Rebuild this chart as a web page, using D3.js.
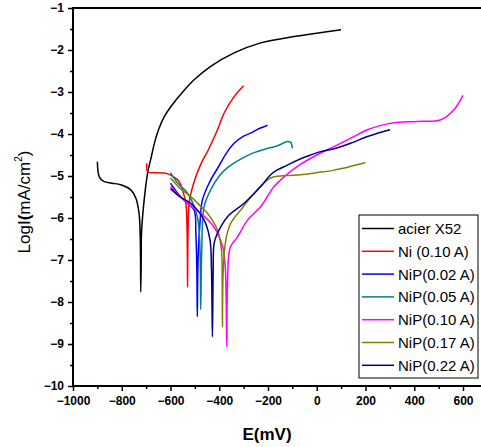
<!DOCTYPE html>
<html><head><meta charset="utf-8">
<script src="https://cdn.jsdelivr.net/npm/d3@7"></script>
<style>body{margin:0;background:#fff}svg{display:block}</style>
</head><body>
<svg id="c" width="481" height="447"></svg>
<script>
const seriesNames = ["acier X52","Ni (0.10 A)","NiP(0.02 A)","NiP(0.05 A)","NiP(0.10 A)","NiP(0.17 A)","NiP(0.22 A)"];
const seriesColors = ["#000000","#ff0000","#0000ff","#008080","#ff00ff","#808000","#000080"];
const acier = [[-900,-4.66],[-892,-5.02],[-874,-5.13],[-840,-5.17],[-804,-5.21],[-763,-5.33],[-742,-5.53],[-729,-5.89],[-724,-6.5],[-722,-7.76],[-720,-6.9],[-719,-6.36],[-708,-5.57],[-694,-4.93],[-681,-4.6],[-665,-4.2],[-648,-3.88],[-625,-3.58],[-599,-3.35],[-550,-3.0],[-503,-2.71],[-435,-2.39],[-339,-2.07],[-230,-1.83],[-93,-1.68],[0,-1.6],[100,-1.52]];
const ni010 = [[-697,-4.70],[-694,-4.90],[-670,-4.92],[-653,-4.92],[-626,-4.93],[-599,-4.98],[-565,-5.13],[-551,-5.33],[-537,-5.65],[-532,-6.3],[-530,-7.65],[-528,-6.4],[-522,-5.57],[-498,-5.05],[-474,-4.7],[-445,-4.38],[-407,-3.90],[-380,-3.50],[-339,-3.11],[-300,-2.85]];
const nip002 = [[-600,-5.17],[-565,-5.45],[-530,-5.65],[-503,-5.81],[-496,-6.36],[-492,-7.2],[-490,-8.35],[-487,-7.0],[-480,-6.2],[-469,-5.57],[-440,-5.15],[-400,-4.75],[-370,-4.45],[-339,-4.22],[-300,-4.05],[-271,-3.98],[-240,-3.88],[-202,-3.79]];
const nip005 = [[-600,-4.92],[-571,-5.17],[-530,-5.41],[-490,-5.97],[-479,-6.76],[-476,-8.18],[-472,-6.8],[-462,-5.73],[-435,-5.33],[-400,-5.0],[-366,-4.8],[-312,-4.6],[-260,-4.45],[-200,-4.34],[-161,-4.28],[-120,-4.18],[-107,-4.2],[-100,-4.34]];
const nip010 = [[-600,-5.25],[-560,-5.5],[-520,-5.7],[-476,-5.89],[-430,-6.15],[-407,-6.36],[-385,-6.7],[-375,-7.2],[-369,-9.07],[-366,-7.5],[-355,-6.7],[-325,-6.45],[-284,-6.05],[-230,-5.73],[-175,-5.25],[-134,-5.02],[-66,-4.72],[0,-4.5],[71,-4.3],[140,-4.1],[208,-3.90],[260,-3.8],[317,-3.73],[413,-3.70],[509,-3.66],[563,-3.42],[600,-3.08]];
const nip017 = [[-600,-5.05],[-560,-5.3],[-517,-5.49],[-480,-5.7],[-448,-5.89],[-407,-6.29],[-391,-6.76],[-388,-7.5],[-387,-8.59],[-384,-7.3],[-373,-6.52],[-353,-6.13],[-312,-5.81],[-257,-5.41],[-202,-5.09],[-175,-5.02],[-120,-4.99],[-66,-4.97],[0,-4.92],[71,-4.86],[140,-4.77],[200,-4.68]];
const nip022 = [[-600,-5.3],[-560,-5.5],[-517,-5.65],[-462,-6.05],[-438,-6.52],[-432,-7.2],[-428,-8.83],[-425,-7.3],[-421,-6.60],[-407,-6.36],[-366,-5.97],[-298,-5.65],[-230,-5.25],[-189,-4.97],[-160,-4.85],[-120,-4.74],[-66,-4.59],[-25,-4.5],[16,-4.42],[71,-4.35],[139,-4.22],[208,-4.06],[250,-3.98],[301,-3.90]];
const seriesData = [acier, ni010, nip002, nip005, nip010, nip017, nip022];
const xTicks = [-1000,-800,-600,-400,-200,0,200,400,600];
const xMinor = [-900,-700,-500,-300,-100,100,300,500];
const yTicks = [-10,-9,-8,-7,-6,-5,-4,-3,-2,-1];
const yMinor = [-9.5,-8.5,-7.5,-6.5,-5.5,-4.5,-3.5,-2.5,-1.5];

const svg = d3.select("#c");
const x = d3.scaleLinear().domain([-1000,600]).range([73,463]);
const y = d3.scaleLinear().domain([-10,-1]).range([386,8]);

// curves
const line = d3.line().x(d=>x(d[0])).y(d=>y(d[1])).curve(d3.curveCatmullRom.alpha(0.5));
svg.append("g").selectAll("path").data(seriesData).join("path")
  .attr("d", line).attr("fill","none")
  .attr("stroke",(d,i)=>seriesColors[i]).attr("stroke-width",1.5);

// axes
const gx = svg.append("g").attr("transform","translate(0,386)");
gx.call(d3.axisBottom(x).tickValues(xTicks).tickSize(5).tickFormat(d3.format("d")));
gx.select(".domain").remove();
gx.selectAll(".tick line").attr("stroke-width",1.5);
gx.selectAll(".tick text").attr("font-family","Liberation Sans, Arial, sans-serif").attr("font-weight","bold").attr("font-size",12).attr("dy","0.9em");
gx.append("g").call(d3.axisBottom(x).tickValues(xMinor).tickSize(3).tickFormat(""))
  .call(g=>{g.select(".domain").remove(); g.selectAll(".tick line").attr("stroke-width",1.5);});
gx.append("line").attr("x1",72).attr("x2",481).attr("y1",0).attr("y2",0).attr("stroke","#000").attr("stroke-width",2);

const gy = svg.append("g").attr("transform","translate(73,0)");
gy.call(d3.axisLeft(y).tickValues(yTicks).tickSize(5).tickFormat(d3.format("d")));
gy.select(".domain").remove();
gy.selectAll(".tick line").attr("stroke-width",1.5);
gy.selectAll(".tick text").attr("font-family","Liberation Sans, Arial, sans-serif").attr("font-weight","bold").attr("font-size",12).attr("x",-9);
gy.append("g").call(d3.axisLeft(y).tickValues(yMinor).tickSize(3).tickFormat(""))
  .call(g=>{g.select(".domain").remove(); g.selectAll(".tick line").attr("stroke-width",1.5);});
gy.append("line").attr("x1",0).attr("x2",0).attr("y1",7).attr("y2",387).attr("stroke","#000").attr("stroke-width",2);
svg.append("line").attr("x1",72).attr("x2",481).attr("y1",y(-1)).attr("y2",y(-1)).attr("stroke","#000").attr("stroke-width",2);

// axis titles
svg.append("text").attr("x",267).attr("y",440).attr("text-anchor","middle")
  .attr("font-family","Liberation Sans, Arial, sans-serif").attr("font-weight","bold").attr("font-size",17).text("E(mV)");
const yl = svg.append("text").attr("transform","translate(30,202) rotate(-90)").attr("text-anchor","middle")
  .attr("font-family","Liberation Sans, Arial, sans-serif").attr("font-size",17);
yl.append("tspan").text("LogI");
yl.append("tspan").attr("font-weight","bold").text("(");
yl.append("tspan").text("mA/cm");
yl.append("tspan").attr("font-size",10).attr("dy",-8).text("2");
yl.append("tspan").attr("dy",8).text(")");

// legend
const lg = svg.append("g").attr("transform","translate(359,215)");
lg.append("rect").attr("width",119).attr("height",163).attr("fill","#fff").attr("stroke","#000").attr("stroke-width",1);
const rows = lg.selectAll("g.r").data(seriesNames).join("g").attr("class","r")
  .attr("transform",(d,i)=>`translate(0,${13.5+i*22.8})`);
rows.append("line").attr("x1",3).attr("x2",35).attr("stroke",(d,i)=>seriesColors[i]).attr("stroke-width",1.5);
rows.append("text").attr("x",39).attr("dy","0.36em").attr("font-family","Liberation Sans, Arial, sans-serif").attr("font-size",15).text(d=>d);
</script>
</body></html>
